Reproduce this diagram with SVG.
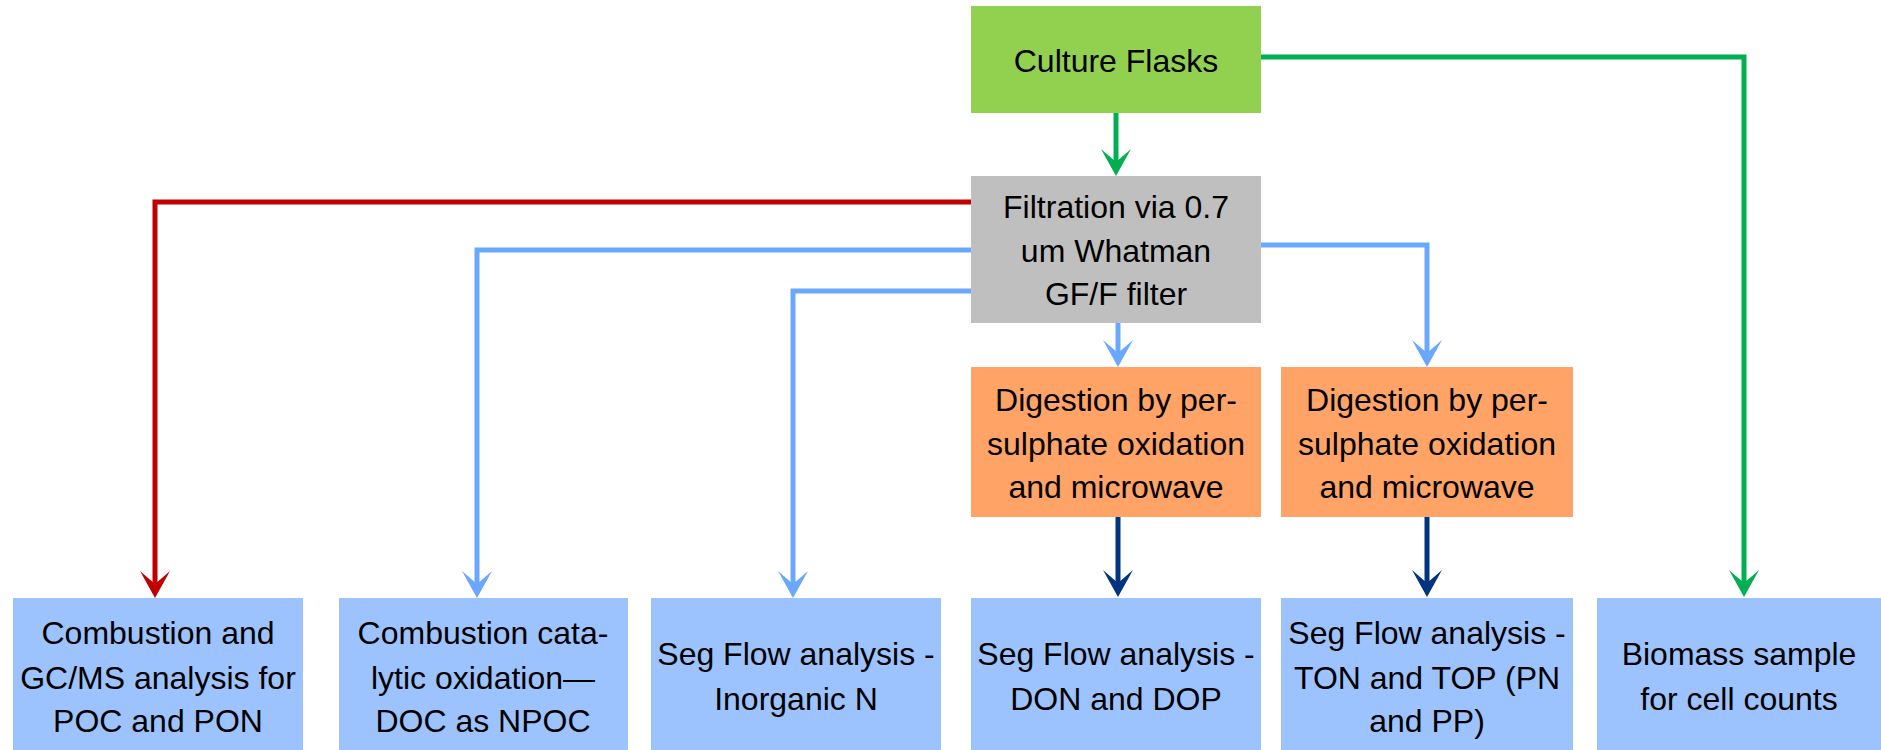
<svg xmlns="http://www.w3.org/2000/svg" width="1881" height="750" viewBox="0 0 1881 750">
<style>
text{font-family:"Liberation Sans",Arial,sans-serif;font-size:32px;fill:#000;text-anchor:middle}
.green{fill:#92D050}.gray{fill:#BFBFBF}.orange{fill:#FFA366}.blue{fill:#9DC3FF}
.c{fill:none;stroke-width:5;stroke-linejoin:miter}
.cg{stroke:#00B050}.cr{stroke:#C00000}.cb{stroke:#6AA8FF}.cd{stroke:#003380}
</style>
<defs>
<marker id="ag" markerUnits="userSpaceOnUse" viewBox="-29 -16 31 32" markerWidth="31" markerHeight="32" refX="-7" refY="0" orient="auto"><path d="M0,0 L-27,-15 L-14,0 L-27,15 Z" fill="#00B050"/></marker>
<marker id="ar" markerUnits="userSpaceOnUse" viewBox="-29 -16 31 32" markerWidth="31" markerHeight="32" refX="-7" refY="0" orient="auto"><path d="M0,0 L-27,-15 L-14,0 L-27,15 Z" fill="#C00000"/></marker>
<marker id="ab" markerUnits="userSpaceOnUse" viewBox="-29 -16 31 32" markerWidth="31" markerHeight="32" refX="-7" refY="0" orient="auto"><path d="M0,0 L-27,-15 L-14,0 L-27,15 Z" fill="#6AA8FF"/></marker>
<marker id="ad" markerUnits="userSpaceOnUse" viewBox="-29 -16 31 32" markerWidth="31" markerHeight="32" refX="-7" refY="0" orient="auto"><path d="M0,0 L-27,-15 L-14,0 L-27,15 Z" fill="#003380"/></marker>
</defs>
<rect width="1881" height="750" fill="#fff"/>
<g id="connectors">
<path class="c cg" d="M1261,57 H1744 V590" marker-end="url(#ag)"/>
<path class="c cg" d="M1116,113 V169" marker-end="url(#ag)"/>
<path class="c cr" d="M971,202 H155 V591" marker-end="url(#ar)"/>
<path class="c cb" d="M971,250 H477 V591" marker-end="url(#ab)"/>
<path class="c cb" d="M971,291 H793 V591" marker-end="url(#ab)"/>
<path class="c cb" d="M1261,245 H1427 V360" marker-end="url(#ab)"/>
<path class="c cb" d="M1118,323 V360" marker-end="url(#ab)"/>
<path class="c cd" d="M1118,517 V590" marker-end="url(#ad)"/>
<path class="c cd" d="M1427,517 V590" marker-end="url(#ad)"/>
</g>
<g id="culture"><rect class="green" x="971" y="6" width="290" height="107"/><text x="1116" y="72">Culture Flasks</text></g>
<g id="filtration"><rect class="gray" x="971" y="176" width="290" height="147"/><text x="1116" y="218">Filtration via 0.7</text><text x="1116" y="262">um Whatman</text><text x="1116" y="305">GF/F filter</text></g>
<g id="digestion1"><rect class="orange" x="971" y="367" width="290" height="150"/><text x="1116" y="411">Digestion by per-</text><text x="1116" y="455">sulphate oxidation</text><text x="1116" y="498">and microwave</text></g>
<g id="digestion2"><rect class="orange" x="1281" y="367" width="292" height="150"/><text x="1427" y="411">Digestion by per-</text><text x="1427" y="455">sulphate oxidation</text><text x="1427" y="498">and microwave</text></g>
<g id="poc"><rect class="blue" x="13" y="598" width="290" height="152"/><text x="158" y="644">Combustion and</text><text x="158" y="689">GC/MS analysis for</text><text x="158" y="732">POC and PON</text></g>
<g id="doc"><rect class="blue" x="339" y="598" width="289" height="152"/><text x="483" y="644">Combustion cata-</text><text x="483" y="689">lytic oxidation—</text><text x="483" y="732">DOC as NPOC</text></g>
<g id="inorganic"><rect class="blue" x="651" y="598" width="290" height="152"/><text x="796" y="665">Seg Flow analysis -</text><text x="796" y="710">Inorganic N</text></g>
<g id="don"><rect class="blue" x="971" y="598" width="290" height="152"/><text x="1116" y="665">Seg Flow analysis -</text><text x="1116" y="710">DON and DOP</text></g>
<g id="ton"><rect class="blue" x="1281" y="598" width="292" height="152"/><text x="1427" y="644">Seg Flow analysis -</text><text x="1427" y="689">TON and TOP (PN</text><text x="1427" y="732">and PP)</text></g>
<g id="biomass"><rect class="blue" x="1597" y="598" width="284" height="152"/><text x="1739" y="665">Biomass sample</text><text x="1739" y="710">for cell counts</text></g>
</svg>
